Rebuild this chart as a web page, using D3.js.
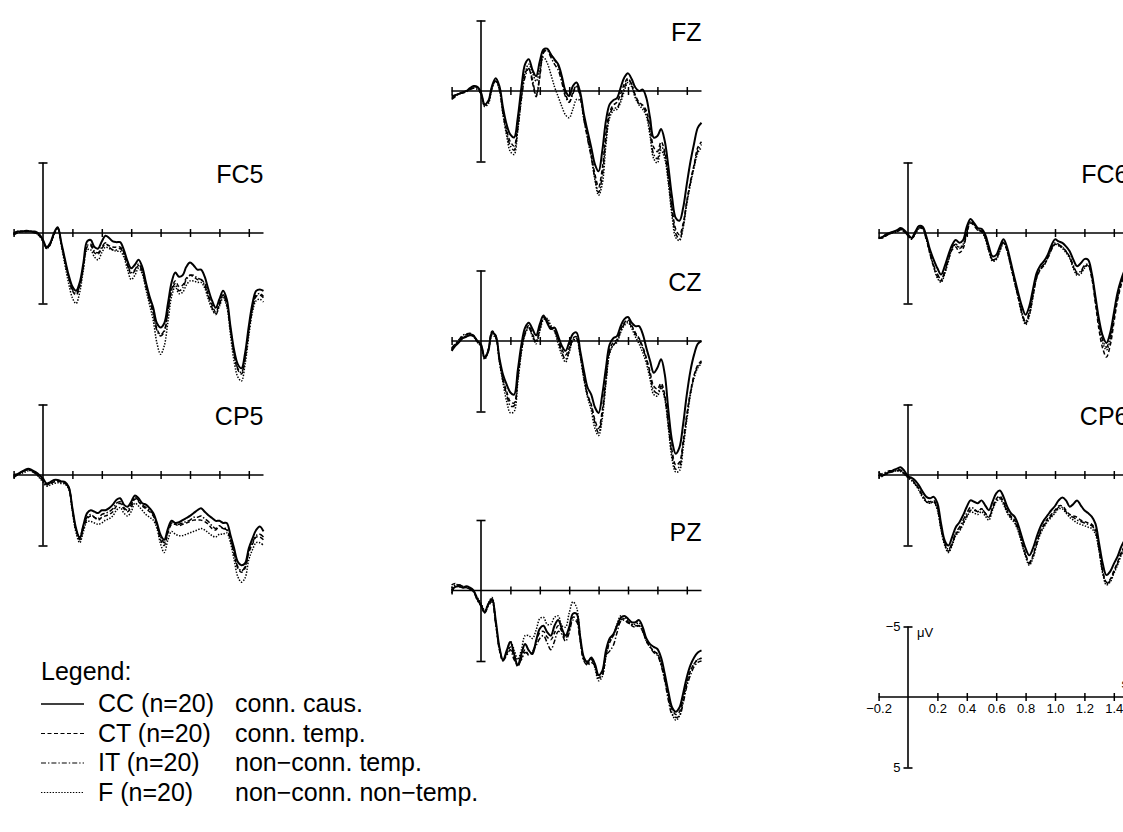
<!DOCTYPE html>
<html lang="en">
<head>
<meta charset="UTF-8">
<title>ERP grand averages</title>
<script src="https://cdn.jsdelivr.net/npm/d3@7"></script>
<style>
  body { margin: 0; background: #fff; }
  svg { display: block; font-family: "Liberation Sans", Arial, Helvetica, sans-serif; }
</style>
</head>
<body>
<svg width="1123" height="832"></svg>
<script>
// time points (s) and condition info
const times = [
  -0.2, -0.175, -0.15, -0.125, -0.1, -0.075, -0.05, -0.025, 0,
  0.025, 0.05, 0.075, 0.1, 0.125, 0.15, 0.175, 0.2, 0.225, 0.25, 0.275, 0.3,
  0.325, 0.35, 0.375, 0.4, 0.425, 0.45, 0.475, 0.5, 0.525, 0.55, 0.575, 0.6,
  0.625, 0.65, 0.675, 0.7, 0.725, 0.75, 0.775, 0.8, 0.825, 0.85, 0.875, 0.9,
  0.925, 0.95, 0.975, 1.0, 1.025, 1.05, 1.075, 1.1, 1.125, 1.15, 1.175, 1.2,
  1.225, 1.25, 1.275, 1.3, 1.325, 1.35, 1.375, 1.4, 1.425, 1.45, 1.475, 1.5
];
const conditions = ["CC", "CT", "IT", "F"];
const groupSizes = [20, 20, 20, 20];
const conditionNames = ["conn. caus.", "conn. temp.", "non\u2212conn. temp.", "non\u2212conn. non\u2212temp."];
const xTicks = [-0.2, 0.2, 0.4, 0.6, 0.8, 1.0, 1.2, 1.4];
const xTickLabels = ["\u22120.2", "0.2", "0.4", "0.6", "0.8", "1.0", "1.2", "1.4"];
const yTicks = [-5, 5];
const yTickLabels = ["\u22125", "5"];

// amplitudes in microvolt (negative is drawn up)
const fc5CC = [0.1,-0.1,-0.1,-0.15,-0.15,-0.1,-0.1,0.1, 0.5,
  1.0,0.7,0.0,-0.4, 0.7,1.9,3.0,3.8, 4.1,3.5,2.1,0.6, 0.5,1.0,1.1,0.6,
  0.2,0.35,0.6,0.65, 0.65,1.2,2.0,2.5, 2.25,1.9,2.4,3.5, 4.5,5.3,6.4,6.7,
  6.4,5.0,3.5,2.8, 3.1,3.0,2.4,2.1, 2.3,2.6,2.6,3.1, 4.0,4.8,5.3,4.7,
  4.1,4.7,6.6,8.3, 9.3,9.6,8.5,6.6, 5.0,4.1,4.0,4.1];
const fc5CT = [0.15,0.0,-0.1,-0.1,-0.1,-0.05,0.0,0.2, 0.6,
  1.1,0.8,0.1,-0.3, 0.8,2.1,3.2,4.1, 4.4,3.8,2.4,1.0, 0.9,1.4,1.5,1.1,
  0.8,0.9,1.0,1.0, 1.0,1.4,2.3,2.9, 2.7,2.3,2.7,3.7, 4.7,5.6,6.8,7.2,
  6.9,5.5,4.0,3.4, 3.8,3.7,3.2,3.0, 3.1,3.3,3.3,3.6, 4.4,5.1,5.6,5.0,
  4.4,5.0,6.9,8.6, 9.7,10.0,8.9,7.0, 5.4,4.5,4.4,4.6];
const fc5IT = [0.0,-0.1,-0.15,-0.1,-0.1,-0.1,0.0,0.15, 0.55,
  1.05,0.75,0.05,-0.35, 0.8,2.0,3.1,4.0, 4.3,3.7,2.3,0.9, 0.8,1.3,1.4,1.0,
  0.7,1.0,1.2,1.2, 1.1,1.5,2.2,2.8, 2.6,2.2,2.7,3.8, 4.8,5.7,6.9,7.3,
  7.0,5.6,4.1,3.6, 4.1,3.9,3.3,3.0, 3.0,3.2,3.3,3.7, 4.5,5.3,5.8,5.1,
  4.4,5.0,6.8,8.5, 9.6,9.9,8.8,6.9, 5.3,4.4,4.3,4.5];
const fc5F = [0.1,0.0,-0.1,-0.1,-0.15,-0.1,0.0,0.2, 0.6,
  1.1,0.8,0.1,-0.35, 0.9,2.3,3.6,4.6, 5.0,4.2,2.6,1.2, 1.2,1.7,1.9,1.4,
  1.0,1.1,1.2,1.3, 1.3,1.7,2.6,3.3, 3.0,2.5,2.9,4.0, 5.1,6.2,7.8,8.6,
  8.0,6.3,4.5,3.8, 4.3,4.2,3.7,3.4, 3.4,3.5,3.5,3.9, 4.7,5.4,5.7,5.2,
  4.6,5.2,7.2,9.1, 10.2,10.5,9.3,7.3, 5.6,4.8,4.7,4.9];

const fzCC = [0.4,0.3,0.2,0.1,0.0,-0.2,-0.35,-0.3, 0.1,
  0.95,0.7,-0.35,-0.9, -0.35,1.2,2.4,3.1, 3.3,1.9,-0.25,-1.9, -2.25,-1.5,-1.05,-2.1,
  -2.95,-3.0,-2.6,-2.25, -1.9,-1.05,0.0,0.35, -0.35,-0.6,0.1,1.65, 2.85,4.0,5.2,5.7,
  4.25,2.1,0.95,0.65, 0.5,-0.25,-0.95,-1.25, -0.85,-0.25,0.0,-0.1, 0.5,1.9,3.3,3.2,
  2.7,3.55,5.4,7.55, 9.0,9.2,8.3,6.6, 5.0,3.7,2.6,2.25];
const fzCT = [0.5,0.35,0.2,0.1,0.0,-0.15,-0.3,-0.25, 0.15,
  1.0,0.75,-0.3,-0.8, -0.2,1.5,2.8,3.6, 3.9,2.4,0.2,-1.3, -1.55,-0.6,0.4,-1.0,
  -2.8,-3.0,-2.6,-2.2, -1.8,-0.9,0.2,0.8, 0.1,-0.4,0.3,1.9, 3.2,4.5,5.9,6.8,
  5.5,3.0,1.5,1.0, 0.8,0.2,-0.5,-0.9, -0.4,0.3,0.8,1.0, 1.4,2.6,4.0,4.3,
  3.6,4.3,6.1,8.3, 9.8,10.2,9.4,7.8, 6.4,5.2,4.0,3.6];
const fzIT = [0.6,0.4,0.2,0.15,0.05,-0.1,-0.2,-0.1, 0.2,
  1.05,0.8,-0.2,-0.7, -0.1,1.6,3.0,3.9, 4.2,2.7,0.5,-1.0, -1.6,-0.8,0.3,-1.1,
  -2.7,-2.9,-2.4,-1.9, -1.5,-0.6,0.4,0.8, 0.2,-0.3,0.4,2.0, 3.4,4.7,6.2,7.2,
  6.0,3.4,1.7,1.2, 1.2,0.6,-0.2,-0.8, -0.5,0.4,0.9,1.1, 1.6,2.9,4.5,4.8,
  3.9,4.5,6.3,8.6, 10.1,10.5,9.6,7.9, 6.5,5.3,4.2,3.8];
const fzF = [0.3,0.3,0.2,0.1,0.0,-0.1,-0.25,-0.2, 0.2,
  1.1,0.9,-0.2,-0.75, -0.1,1.7,3.2,4.3, 4.5,2.8,0.6,-1.3, -1.9,-1.3,-0.7,-1.5,
  -2.4,-2.0,-1.2,-0.3, 0.4,1.1,1.7,1.9, 1.3,0.6,0.7,2.0, 3.3,4.6,6.3,7.4,
  6.6,3.8,1.9,1.4, 1.3,0.8,0.0,-0.6, -0.3,0.5,1.0,1.3, 1.8,3.2,4.8,5.1,
  4.2,4.8,6.6,8.9, 10.4,10.6,9.7,8.0, 6.6,5.4,4.4,4.0];

const czCC = [0.7,0.35,0.1,-0.2,-0.3,-0.4,-0.35,0.0, 0.25,
  1.2,0.7,-0.6,-0.35, 1.2,2.4,3.1,3.65, 3.8,2.1,0.25,-0.95, -1.3,-0.85,-0.4,-1.2,
  -1.8,-1.3,-0.85,-0.95, -0.35,0.35,0.7,0.1, -0.5,-0.6,0.7,2.1, 3.3,3.8,4.7,5.1,
  3.8,1.9,0.25,-0.2, -0.35,-1.05,-1.55,-1.7, -1.3,-1.05,-1.05,-0.5, 0.5,1.4,2.25,1.9,
  1.3,2.35,4.95,7.1, 8.0,7.55,5.9,3.8, 2.1,0.95,0.2,0.0];
const czCT = [0.6,0.3,0.0,-0.3,-0.45,-0.5,-0.4,0.0, 0.3,
  1.1,0.6,-0.7,-0.4, 1.3,2.7,3.6,4.3, 4.4,2.6,0.6,-0.6, -1.1,-0.5,0.0,-0.9,
  -1.7,-1.4,-0.9,-0.7, -0.1,0.6,1.0,0.5, -0.2,-0.3,0.9,2.5, 3.8,4.5,5.6,6.2,
  4.9,2.6,0.6,0.1, -0.1,-0.8,-1.3,-1.5, -1.1,-0.6,-0.2,0.4, 1.2,2.2,3.2,3.4,
  3.0,3.8,5.8,7.8, 8.8,8.6,7.1,5.2, 3.6,2.4,1.7,1.4];
const czIT = [0.5,0.2,-0.1,-0.4,-0.5,-0.55,-0.35,0.05, 0.35,
  1.2,0.6,-0.5,-0.3, 1.4,2.8,3.8,4.6, 4.6,2.7,0.7,-0.5, -0.9,-0.4,0.1,-0.8,
  -1.6,-1.5,-1.0,-0.8, 0.0,0.8,1.3,0.7, -0.1,-0.2,1.0,2.6, 3.9,4.6,5.8,6.5,
  5.2,2.8,0.8,0.3, 0.0,-0.7,-1.2,-1.4, -1.0,-0.5,-0.1,0.5, 1.3,2.4,3.5,3.7,
  3.2,4.0,6.0,8.1, 9.1,8.9,7.3,5.4, 3.7,2.5,1.8,1.5];
const czF = [0.6,0.3,0.0,-0.2,-0.35,-0.45,-0.3,0.1, 0.4,
  1.3,0.7,-0.4,-0.2, 1.5,3.0,4.3,5.1, 5.0,3.0,0.8,-0.5, -1.0,-0.3,0.2,-0.7,
  -1.5,-1.6,-1.1,-0.7, 0.2,1.0,1.5,0.8, 0.0,-0.1,1.1,2.7, 4.0,4.9,6.2,6.7,
  5.5,3.0,0.9,0.3, 0.1,-0.6,-1.1,-1.3, -0.9,-0.3,0.2,0.8, 1.6,2.7,3.8,3.9,
  3.3,4.1,6.2,8.4, 9.3,9.2,7.6,5.6, 3.8,2.6,1.9,1.6];

const pzCC = [0.0,-0.25,-0.3,-0.2,-0.3,-0.2,0.0,0.6, 1.05,
  1.55,0.95,0.6,2.1, 4.0,4.95,4.25,3.65, 4.5,5.3,4.5,3.8, 4.25,4.5,3.55,2.7,
  2.5,2.95,3.2,2.5, 2.1,2.7,3.2,2.6, 1.65,1.65,3.3,4.75, 5.1,4.75,5.2,6.0,
  5.7,4.25,3.4,3.1, 2.5,1.95,1.8,2.0, 2.25,2.25,2.1,2.6, 3.4,3.8,4.0,4.15,
  4.75,5.9,7.2,8.3, 8.6,8.3,7.3,6.15, 5.3,4.75,4.4,4.25];
const pzCT = [-0.4,-0.5,-0.3,-0.2,-0.2,-0.1,0.1,0.6, 1.0,
  1.5,1.0,0.7,2.3, 4.2,5.0,4.5,4.0, 4.7,5.4,4.8,4.2, 4.6,4.4,3.6,3.0,
  2.9,3.3,3.5,3.0, 2.5,2.9,3.4,2.8, 1.9,2.0,3.5,4.9, 5.2,4.9,5.4,6.2,
  6.0,4.6,3.7,3.2, 2.6,2.1,2.0,2.2, 2.5,2.6,2.5,2.9, 3.6,4.0,4.3,4.5,
  5.1,6.2,7.4,8.4, 8.8,8.6,7.6,6.5, 5.7,5.2,4.9,4.8];
const pzIT = [0.2,-0.3,-0.4,-0.3,-0.2,-0.1,0.1,0.7, 1.1,
  1.6,1.1,0.8,2.4, 4.1,4.9,4.6,4.2, 4.9,5.2,4.9,4.4, 4.5,4.3,3.9,3.4,
  3.2,3.7,4.2,3.6, 2.9,3.1,3.6,3.0, 2.1,2.2,3.6,5.0, 5.3,5.1,5.3,6.1,
  5.8,4.6,4.3,3.9, 3.0,2.2,2.1,2.3, 2.4,2.5,2.5,2.9, 3.5,4.0,4.4,4.6,
  5.3,6.4,7.8,8.8, 9.0,8.9,8.0,6.8, 6.0,5.4,5.1,5.0];
const pzF = [-0.2,-0.4,-0.4,-0.3,-0.2,-0.1,0.1,0.5, 0.9,
  1.4,0.9,0.5,2.2, 4.1,5.0,4.4,3.6, 4.2,4.9,4.2,3.2, 3.2,3.4,2.8,2.0,
  1.9,2.4,2.4,1.9, 1.8,2.5,2.6,1.6, 0.8,1.2,3.3,4.8, 5.0,4.8,5.5,6.4,
  6.1,4.7,3.6,3.2, 2.4,1.8,1.9,2.1, 2.4,2.4,2.3,2.8, 3.6,4.0,4.3,4.5,
  5.2,6.3,7.6,8.7, 9.2,8.9,7.8,6.6, 5.7,5.2,4.9,4.8];

const cp5CC = [0.0,-0.05,-0.2,-0.35,-0.45,-0.35,-0.2,0.0, 0.25,
  0.6,0.5,0.35,0.35, 0.45,0.5,0.85,2.35, 3.8,4.5,3.55,2.7, 2.5,2.6,2.7,2.5,
  2.5,2.35,2.1,1.75, 1.65,2.1,2.25,1.9, 1.45,1.65,2.0,2.1, 2.35,2.7,3.4,4.25,
  4.6,3.8,3.25,3.4, 3.35,3.2,3.05,2.9, 2.7,2.5,2.35,2.6, 2.85,3.05,3.25,3.25,
  3.4,3.4,4.25,5.2, 6.15,6.4,6.25,5.2, 4.5,3.9,3.65,4.0];
const cp5CT = [0.1,0.0,-0.2,-0.3,-0.4,-0.3,-0.1,0.1, 0.35,
  0.7,0.6,0.5,0.45, 0.5,0.6,0.9,2.4, 3.9,4.6,3.8,3.1, 2.9,3.0,3.2,3.0,
  2.9,2.8,2.6,2.2, 2.0,2.4,2.6,2.3, 1.7,1.9,2.2,2.4, 2.6,2.9,3.6,4.6,
  5.0,4.1,3.5,3.5, 3.6,3.5,3.4,3.3, 3.2,3.2,3.2,3.3, 3.5,3.8,3.9,3.6,
  3.8,3.9,4.6,5.6, 6.6,6.9,6.6,5.5, 4.9,4.4,4.4,4.6];
const cp5IT = [0.2,0.0,-0.15,-0.3,-0.35,-0.25,-0.1,0.15, 0.4,
  0.7,0.55,0.45,0.4, 0.5,0.55,0.9,2.5, 3.9,4.4,3.6,3.0, 2.8,3.0,3.1,2.8,
  2.7,2.6,2.4,2.0, 1.9,2.3,2.5,2.1, 1.6,1.8,2.1,2.3, 2.5,2.8,3.5,4.4,
  4.8,4.0,3.4,3.5, 3.5,3.4,3.3,3.2, 3.0,3.0,2.9,3.1, 3.3,3.6,3.8,3.6,
  3.8,3.8,4.5,5.5, 6.5,6.8,6.5,5.4, 4.8,4.3,4.2,4.4];
const cp5F = [0.1,0.0,-0.1,-0.2,-0.3,-0.3,-0.1,0.2, 0.5,
  0.8,0.7,0.6,0.55, 0.6,0.65,1.0,2.6, 4.1,4.8,4.0,3.3, 3.3,3.4,3.5,3.4,
  3.2,3.1,2.9,2.5, 2.3,2.7,2.9,2.6, 2.0,2.2,2.5,2.8, 3.0,3.2,3.8,4.9,
  5.5,4.6,4.0,4.2, 4.3,4.3,4.2,4.1, 4.0,3.9,3.8,3.9, 4.1,4.3,4.4,4.2,
  4.2,4.1,4.8,6.0, 7.2,7.6,7.3,6.0, 5.3,4.8,4.8,5.0];

const fc6CC = [0.35,0.3,0.1,0.0,-0.1,-0.2,-0.35,-0.2, 0.1,
  0.35,-0.1,-0.5,-0.45, 0.25,1.2,1.9,2.5, 2.95,2.35,1.55,0.85, 0.5,0.7,0.5,-0.45,
  -1.0,-0.7,-0.35,-0.3, 0.1,0.95,1.65,1.55, 0.95,0.45,1.05,2.1, 3.2,4.25,5.2,5.8,
  5.2,4.0,2.85,2.3, 2.0,1.55,0.9,0.45, 0.6,0.7,0.95,1.3, 1.9,2.35,2.15,1.85,
  1.9,2.85,4.5,6.15, 7.3,7.8,7.1,5.7, 4.25,3.3,2.6,2.1];
const fc6CT = [0.4,0.3,0.2,0.0,-0.05,-0.1,-0.2,-0.1, 0.2,
  0.4,0.0,-0.4,-0.35, 0.4,1.5,2.4,3.1, 3.4,2.8,1.9,1.2, 1.0,1.4,1.1,0.0,
  -0.7,-0.5,-0.2,-0.1, 0.3,1.2,1.9,1.8, 1.2,0.7,1.3,2.4, 3.5,4.6,5.7,6.4,
  5.8,4.5,3.2,2.6, 2.3,1.8,1.2,0.8, 0.9,1.0,1.3,1.7, 2.4,2.9,2.8,2.4,
  2.3,3.2,5.0,6.9, 8.2,8.8,8.0,6.4, 4.8,3.7,2.9,2.4];
const fc6IT = [0.3,0.35,0.2,0.05,0.0,-0.1,-0.25,-0.1, 0.2,
  0.45,0.0,-0.35,-0.3, 0.5,1.4,2.3,2.9, 3.3,2.7,1.8,1.0, 0.8,1.1,0.9,-0.1,
  -0.8,-0.6,-0.25,-0.15, 0.3,1.2,1.9,1.8, 1.2,0.6,1.2,2.3, 3.4,4.5,5.6,6.3,
  5.6,4.3,3.1,2.5, 2.2,1.7,1.1,0.7, 0.8,1.0,1.3,1.7, 2.3,2.8,2.7,2.3,
  2.2,3.0,4.7,6.4, 7.6,8.1,7.4,6.0, 4.5,3.5,2.8,2.3];
const fc6F = [0.35,0.3,0.2,0.05,-0.05,-0.15,-0.25,-0.1, 0.15,
  0.4,0.05,-0.3,-0.3, 0.4,1.5,2.4,3.2, 3.5,2.9,2.0,1.1, 0.8,1.0,0.8,-0.2,
  -0.8,-0.6,-0.2,-0.1, 0.4,1.3,2.0,1.9, 1.3,0.7,1.3,2.4, 3.5,4.6,5.8,6.5,
  5.9,4.5,3.2,2.6, 2.3,1.8,1.2,0.8, 0.9,1.1,1.4,1.8, 2.5,3.0,2.9,2.5,
  2.3,3.1,4.8,6.5, 7.8,8.3,7.6,6.1, 4.6,3.6,2.9,2.4];

const cp6CC = [0.0,0.05,-0.1,-0.2,-0.35,-0.45,-0.55,-0.3, 0.1,
  0.2,0.4,0.75,1.2, 1.55,1.65,1.55,2.0, 3.45,4.65,5.0,4.4, 3.7,3.35,2.85,2.25,
  1.8,1.9,2.0,1.8, 2.15,2.5,1.9,1.3, 1.1,1.55,2.25,2.7, 2.95,3.55,4.4,5.2,
  5.7,5.2,4.4,3.7, 3.2,2.85,2.5,2.2, 1.8,1.6,1.8,2.25, 2.05,1.8,2.15,2.5,
  2.7,2.95,3.45,4.85, 6.3,7.1,6.85,6.3, 5.8,5.1,4.6,4.15];
const cp6CT = [-0.2,0.0,-0.05,-0.15,-0.25,-0.3,-0.3,-0.1, 0.1,
  0.3,0.6,1.0,1.5, 1.8,1.9,1.8,2.3, 3.7,4.9,5.4,4.9, 4.2,3.9,3.4,2.9,
  2.5,2.5,2.6,2.4, 2.7,3.0,2.3,1.7, 1.5,1.9,2.5,2.9, 3.2,3.8,4.7,5.6,
  6.2,5.7,4.8,4.0, 3.5,3.1,2.8,2.5, 2.2,2.2,2.5,2.8, 2.9,3.0,3.2,3.3,
  3.4,3.5,3.9,5.2, 6.8,7.6,7.4,6.8, 6.2,5.5,5.0,4.6];
const cp6IT = [0.1,-0.1,-0.2,-0.3,-0.3,-0.35,-0.35,-0.1, 0.15,
  0.35,0.65,1.0,1.5, 1.9,2.0,1.9,2.4, 3.8,4.8,5.3,4.8, 4.1,3.7,3.2,2.7,
  2.3,2.4,2.6,2.4, 2.7,3.0,2.4,1.8, 1.6,2.0,2.6,3.0, 3.3,3.9,4.8,5.7,
  6.3,5.8,4.9,4.1, 3.6,3.2,2.9,2.6, 2.3,2.3,2.6,2.9, 3.0,3.2,3.3,3.4,
  3.5,3.6,4.0,5.3, 6.9,7.7,7.5,6.9, 6.3,5.6,5.1,4.7];
const cp6F = [0.2,0.1,-0.1,-0.2,-0.25,-0.3,-0.25,-0.05, 0.2,
  0.4,0.7,1.1,1.6, 1.9,2.0,1.9,2.5, 3.9,5.0,5.5,5.0, 4.3,4.0,3.5,3.0,
  2.6,2.7,2.8,2.6, 2.9,3.2,2.5,1.9, 1.7,2.1,2.7,3.1, 3.4,4.0,4.9,5.8,
  6.4,5.9,5.0,4.2, 3.7,3.3,3.0,2.7, 2.4,2.4,2.7,3.0, 3.2,3.4,3.5,3.6,
  3.7,3.8,4.2,5.4, 7.0,7.8,7.6,7.0, 6.4,5.7,5.2,4.8];

// panel layout: x0 = pixel of t=0, y0 = pixel of 0 µV
const panels = [
  { name: "FC5", x0: 43,  y0: 233,   series: [fc5CC, fc5CT, fc5IT, fc5F] },
  { name: "CP5", x0: 43,  y0: 475,   series: [cp5CC, cp5CT, cp5IT, cp5F] },
  { name: "FZ",  x0: 481, y0: 91,    series: [fzCC, fzCT, fzIT, fzF] },
  { name: "CZ",  x0: 481, y0: 341,   series: [czCC, czCT, czIT, czF] },
  { name: "PZ",  x0: 481, y0: 590.5, series: [pzCC, pzCT, pzIT, pzF] },
  { name: "FC6", x0: 908, y0: 233,   series: [fc6CC, fc6CT, fc6IT, fc6F] },
  { name: "CP6", x0: 908, y0: 475,   series: [cp6CC, cp6CT, cp6IT, cp6F] }
];
const scalePanel = { x0: 908, y0: 697 };

const pxPerSec = 147;
const halfHeight = 70.5; // 5 µV
const styles = [
  { width: 2.0, dash: null },
  { width: 1.5, dash: "4,2.5" },
  { width: 1.5, dash: "5,2,1.4,2" },
  { width: 1.5, dash: "1.4,1.5" }
];

const svg = d3.select("svg");

function scalesFor(p) {
  const x = d3.scaleLinear().domain([-0.2, 1.5])
    .range([p.x0 - 0.2 * pxPerSec, p.x0 + 1.5 * pxPerSec]);
  const y = d3.scaleLinear().domain([-5, 5])
    .range([p.y0 - halfHeight, p.y0 + halfHeight]);
  return { x, y };
}

function drawAxes(g, x, y, withLabels) {
  // horizontal time axis
  g.append("line")
    .attr("x1", x(-0.2)).attr("x2", x(1.5))
    .attr("y1", y(0)).attr("y2", y(0))
    .attr("stroke", "#000").attr("stroke-width", 1.6);
  const xa = g.append("g")
    .attr("transform", `translate(0,${y(0) - 4})`)
    .call(d3.axisBottom(x).tickValues(xTicks).tickSize(8).tickPadding(3)
      .tickFormat((d, i) => withLabels ? xTickLabels[i] : ""));
  xa.select(".domain").remove();
  xa.selectAll("line").attr("stroke-width", 1.5);
  xa.selectAll("text").attr("font-size", 13).attr("font-family", null).attr("fill", "#000");

  // vertical amplitude axis
  g.append("line")
    .attr("x1", x(0)).attr("x2", x(0))
    .attr("y1", y(-5)).attr("y2", y(5))
    .attr("stroke", "#000").attr("stroke-width", 1.6);
  const ya = g.append("g")
    .attr("transform", `translate(${x(0) + 4.5},0)`)
    .call(d3.axisLeft(y).tickValues(yTicks).tickSize(9).tickPadding(3)
      .tickFormat((d, i) => withLabels ? yTickLabels[i] : ""));
  ya.select(".domain").remove();
  ya.selectAll("line").attr("stroke-width", 1.6);
  ya.selectAll("text").attr("font-size", 13).attr("font-family", null).attr("fill", "#000");
}

panels.forEach(p => {
  const { x, y } = scalesFor(p);
  const g = svg.append("g");
  drawAxes(g, x, y, false);

  const line = d3.line()
    .x((d, i) => x(times[i]))
    .y(d => y(d))
    .curve(d3.curveCatmullRom.alpha(0.5));

  // draw CC last so the solid trace sits on top
  [3, 2, 1, 0].forEach(k => {
    g.append("path")
      .attr("d", line(p.series[k]))
      .attr("fill", "none")
      .attr("stroke", "#000")
      .attr("stroke-width", styles[k].width)
      .attr("stroke-dasharray", styles[k].dash)
      .attr("stroke-linejoin", "round");
  });

  g.append("text")
    .attr("x", x(1.5))
    .attr("y", p.y0 - 50)
    .attr("text-anchor", "end")
    .attr("font-size", 25)
    .text(p.name);
});

// calibration panel
{
  const { x, y } = scalesFor(scalePanel);
  const g = svg.append("g");
  drawAxes(g, x, y, true);
  g.append("text").attr("x", x(0) + 9).attr("y", y(-5) + 10)
    .attr("font-size", 13).text("\u03bcV");
  g.append("text").attr("x", x(1.5) - 7).attr("y", y(0) - 9)
    .attr("font-size", 13).text("s");
}

// legend
const legend = svg.append("g");
legend.append("text").attr("x", 41).attr("y", 680).attr("font-size", 25).text("Legend:");
conditions.forEach((c, i) => {
  const yy = 712 + i * 29.5;
  legend.append("line")
    .attr("x1", 41).attr("x2", 84)
    .attr("y1", yy - 8).attr("y2", yy - 8)
    .attr("stroke", "#000")
    .attr("stroke-width", i === 0 ? 1.4 : 1.1)
    .attr("stroke-dasharray", styles[i].dash);
  legend.append("text").attr("x", 98).attr("y", yy).attr("font-size", 25)
    .text(`${c} (n=${groupSizes[i]})`);
  legend.append("text").attr("x", 235).attr("y", yy).attr("font-size", 25)
    .text(conditionNames[i]);
});
</script>
</body>
</html>
